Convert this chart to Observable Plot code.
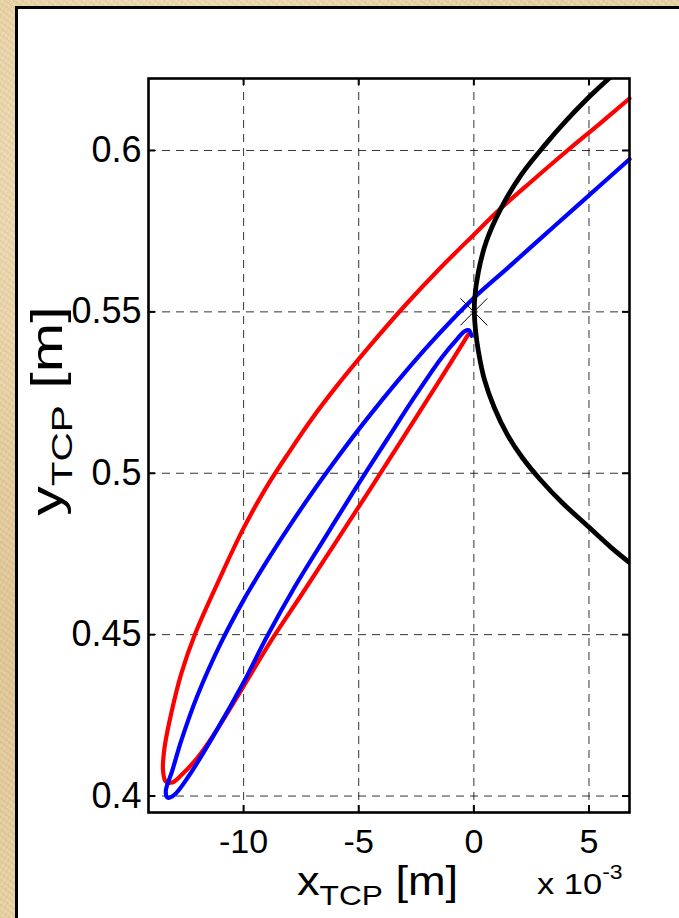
<!DOCTYPE html>
<html>
<head>
<meta charset="utf-8">
<script src="https://cdn.jsdelivr.net/npm/d3@7"></script>
<script src="https://cdn.jsdelivr.net/npm/@observablehq/plot@0.6"></script>
<style>
html,body{margin:0;padding:0;}
body{width:679px;height:918px;overflow:hidden;position:relative;
  background-color:#e7d1a3;
  background-image:
    radial-gradient(circle at 30% 20%, rgba(255,248,225,.45) 0, rgba(255,248,225,0) 35%),
    radial-gradient(circle at 10% 70%, rgba(200,160,100,.25) 0, rgba(200,160,100,0) 30%),
    repeating-linear-gradient(37deg, rgba(150,110,60,.10) 0 2px, rgba(0,0,0,0) 2px 5px),
    repeating-linear-gradient(-61deg, rgba(255,255,255,.18) 0 1px, rgba(0,0,0,0) 1px 4px);}
#panel{position:absolute;left:15px;top:6px;width:720px;height:960px;background:#fff;border-left:3px solid #000;border-top:3px solid #000;}
#chart{position:absolute;left:0;top:0;}
</style>
</head>
<body>
<div id="panel"></div>
<div id="chart"></div>
<script>
// ---- data (x in units of 1e-3 m, y in m) ----
const xTicks = [-10, -5, 0, 5];
const yTicks = [0.4, 0.45, 0.5, 0.55, 0.6];

const redX = [6.76, 5.5, 4.0, 2.5, 1.07, 0.01, -1.5, -3.0, -4.5, -6.0, -7.0, -8.0, -9.0, -10.0, -11.0, -12.12, -12.70, -13.14, -13.43, -13.50, -13.38, -13.10, -12.70, -11.98, -11.25, -10.10, -8.79, -7.5, -6.0, -4.5, -3.0, -1.5, -0.24];
const redY = [0.6161, 0.6085, 0.5996, 0.5904, 0.5814, 0.5740, 0.5633, 0.5519, 0.5396, 0.5266, 0.5172, 0.5068, 0.4958, 0.4830, 0.4680, 0.4500, 0.4381, 0.4257, 0.4152, 0.4080, 0.4045, 0.4042, 0.4065, 0.4121, 0.4195, 0.4328, 0.4483, 0.4622, 0.4786, 0.4951, 0.5118, 0.5286, 0.5430];

const blueX = [6.76, 4.5, 3.0, 1.5, 0.01, -1.0, -2.0, -3.0, -4.0, -5.0, -6.0, -7.0, -8.0, -9.0, -10.0, -11.0, -12.0, -12.7, -13.1, -13.38, -13.30, -13.02, -12.41, -11.25, -9.95, -9.0, -7.77, -6.47, -5.17, -3.72, -2.56, -1.40, -0.7, -0.4, -0.22, -0.10];
const blueY = [0.5973, 0.5829, 0.5734, 0.5638, 0.5544, 0.5471, 0.5394, 0.5312, 0.5226, 0.5136, 0.5041, 0.4942, 0.4837, 0.4726, 0.4607, 0.4472, 0.4312, 0.4173, 0.4078, 0.4015, 0.3995, 0.4003, 0.4059, 0.4194, 0.4359, 0.4492, 0.4649, 0.4800, 0.4949, 0.5110, 0.5238, 0.5358, 0.5418, 0.5440, 0.5443, 0.5426];

const blackX = [6.02, 4.98, 4.02, 3.11, 2.07, 1.15, 0.54, 0.20, 0.04, 0.02, 0.07, 0.20, 0.46, 0.89, 1.46, 2.11, 2.89, 3.85, 4.98, 5.98, 6.89];
const blackY = [0.6233, 0.6164, 0.6093, 0.6019, 0.5926, 0.5817, 0.5718, 0.5625, 0.5544, 0.5501, 0.5445, 0.5377, 0.5290, 0.5203, 0.5119, 0.5048, 0.4980, 0.4908, 0.4834, 0.4769, 0.4716];

const markerX = [0];
const markerY = [0.55];

const yLabelMain = "y", yLabelSub = "TCP", yLabelUnit = "\u00a0[m]";
const xLabelMain = "x", xLabelSub = "TCP", xLabelUnit = "\u00a0[m]";
const expBase = "x 10", expPow = "-3";

// ---- build tables ----
const rows = (xs, ys) => xs.map((x, i) => ({x, y: ys[i]}));
const red = rows(redX, redY);
const blue = rows(blueX, blueY);
const black = rows(blackX, blackY);
const marker = rows(markerX, markerY);

const W = 679, H = 918;
const mL = 148, mR = 50, mT = 78, mB = 106;
const fw = W - mL - mR, fh = H - mT - mB;
const tickLen = 7;
const font = "Arial, 'Liberation Sans', Helvetica, sans-serif";

const chart = Plot.plot({
  width: W, height: H,
  marginLeft: mL, marginRight: mR, marginTop: mT, marginBottom: mB,
  x: {domain: [-14.13, 6.76]},
  y: {domain: [0.3949, 0.6223]},
  style: {background: "transparent", fontFamily: font, color: "#000"},
  marks: [
    Plot.gridX(xTicks, {stroke: "#000", strokeOpacity: 0.8, strokeWidth: 1, strokeDasharray: "8,6"}),
    Plot.gridY(yTicks, {stroke: "#000", strokeOpacity: 0.8, strokeWidth: 1, strokeDasharray: "8,6"}),
    Plot.line(red, {x: "x", y: "y", stroke: "#ff0000", strokeWidth: 4.2, curve: "catmull-rom", strokeLinejoin: "round", strokeLinecap: "round"}),
    Plot.line(blue, {x: "x", y: "y", stroke: "#0000ff", strokeWidth: 4.2, curve: "catmull-rom", strokeLinejoin: "round", strokeLinecap: "round"}),
    Plot.line(black, {x: "x", y: "y", stroke: "#000", strokeWidth: 4.8, curve: "catmull-rom", clip: true}),
    Plot.dot(marker, {x: "x", y: "y", symbol: "times", r: 12.3, stroke: "#000", strokeWidth: 1}),
    Plot.tickX(xTicks, {x: d => d, insetTop: fh - tickLen, stroke: "#000", strokeWidth: 2}),
    Plot.tickX(xTicks, {x: d => d, insetBottom: fh - tickLen, stroke: "#000", strokeWidth: 2}),
    Plot.tickY(yTicks, {y: d => d, insetRight: fw - tickLen, stroke: "#000", strokeWidth: 2}),
    Plot.tickY(yTicks, {y: d => d, insetLeft: fw - tickLen, stroke: "#000", strokeWidth: 2}),
    Plot.axisX(xTicks, {tickSize: 0, tickPadding: 16, fontSize: 34, label: null, tickFormat: d => String(d)}),
    Plot.axisY(yTicks, {tickSize: 0, tickPadding: 7, fontSize: 36, label: null, tickFormat: d => String(d)}),
    Plot.frame({stroke: "#000", strokeWidth: 2.6})
  ]
});
document.getElementById("chart").appendChild(chart);

const svg = d3.select(chart);

// axis labels with subscripts
const yl = svg.append("text")
  .attr("transform", "translate(62,411) rotate(-90) scale(1.35,1)")
  .attr("text-anchor", "middle").attr("font-family", font).attr("font-size", 44).attr("fill", "#000");
yl.append("tspan").text(yLabelMain);
yl.append("tspan").attr("font-size", 30).attr("dy", 10).text(yLabelSub);
yl.append("tspan").attr("dy", -10).text(yLabelUnit);

const xl = svg.append("text")
  .attr("transform", "translate(297,895) scale(1.13,1)")
  .attr("text-anchor", "start").attr("font-family", font).attr("font-size", 40).attr("fill", "#000");
xl.append("tspan").text(xLabelMain);
xl.append("tspan").attr("font-size", 28).attr("dy", 10).text(xLabelSub);
xl.append("tspan").attr("dy", -10).text(xLabelUnit);

const ex = svg.append("text")
  .attr("transform", "translate(537,894) scale(1.15,1)")
  .attr("text-anchor", "start").attr("font-family", font).attr("font-size", 30).attr("fill", "#000");
ex.append("tspan").text(expBase);
ex.append("tspan").attr("font-size", 20).attr("dy", -15).text(expPow);
</script>
</body>
</html>
